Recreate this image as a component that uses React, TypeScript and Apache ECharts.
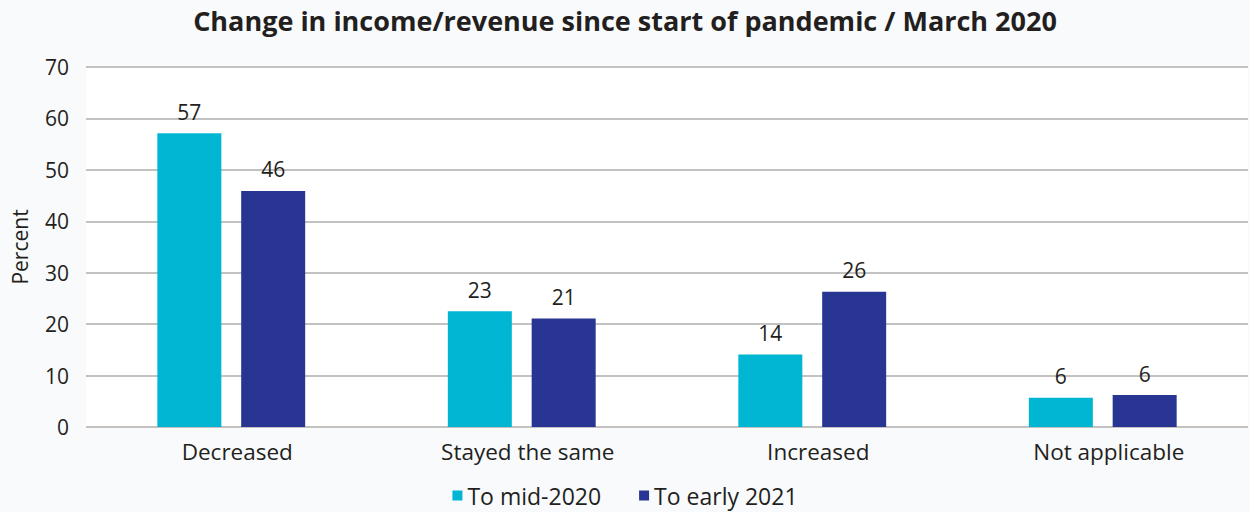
import React, { useEffect, useRef } from "react";
import * as echarts from "echarts";

const categories = ["Decreased", "Stayed the same", "Increased", "Not applicable"];
const seriesNames = ["To mid-2020", "To early 2021"];
const midValues = [57.1, 22.5, 14.1, 5.7];
const earlyValues = [45.9, 21.1, 26.3, 6.2];
const yTicks = { min: 0, max: 70, interval: 10 };
const titleText = "Change in income/revenue since start of pandemic / March 2020";
const yName = "Percent";

const FONT = "'Open Sans', Lato, sans-serif";
const TEXT = "#231f20";
const CYAN = "#00b6d2";
const NAVY = "#283593";

export default function App() {
  const ref = useRef<HTMLDivElement>(null);
  useEffect(() => {
    document.body.style.margin = "0";
    const chart = echarts.init(ref.current!, null, { renderer: "svg" });
    const label = {
      show: true,
      position: "top" as const,
      distance: 11,
      color: TEXT,
      fontFamily: FONT,
      fontSize: 21,
      formatter: (p: any) => String(Math.round(p.value)),
    };
    chart.setOption({
      animation: false,
      backgroundColor: "#f9fafc",
      textStyle: { fontFamily: FONT, color: TEXT },
      title: {
        text: titleText,
        left: "center",
        top: 2,
        textStyle: { fontFamily: FONT, fontWeight: "bold", fontSize: 27, color: TEXT },
      },
      legend: {
        bottom: 0,
        left: "center",
        itemWidth: 10,
        itemHeight: 10,
        itemGap: 38,
        icon: "rect",
        textStyle: { fontFamily: FONT, fontSize: 23, color: TEXT },
        data: seriesNames,
      },
      grid: {
        left: 86,
        right: 2,
        top: 67,
        bottom: 85,
        show: true,
        backgroundColor: "#ffffff",
        borderWidth: 0,
      },
      xAxis: {
        type: "category",
        data: categories,
        axisLine: { show: false },
        axisTick: { show: false },
        axisLabel: {
          color: TEXT,
          fontFamily: FONT,
          fontSize: 22.5,
          margin: 13,
          padding: [0, 0, 0, 12],
        },
      },
      yAxis: {
        type: "value",
        min: yTicks.min,
        max: yTicks.max,
        interval: yTicks.interval,
        name: yName,
        nameLocation: "middle",
        nameGap: 56,
        nameRotate: 90,
        nameTextStyle: { color: TEXT, fontFamily: FONT, fontSize: 21 },
        axisLine: { show: false },
        axisTick: { show: false },
        axisLabel: { color: TEXT, fontFamily: FONT, fontSize: 21, margin: 17 },
        splitLine: { lineStyle: { color: "#c4c2c0", width: 2 } },
      },
      series: [
        {
          name: seriesNames[0],
          type: "bar",
          data: midValues,
          barWidth: 64,
          barGap: "31%",
          itemStyle: { color: CYAN },
          label,
        },
        {
          name: seriesNames[1],
          type: "bar",
          data: earlyValues,
          barWidth: 64,
          barGap: "31%",
          itemStyle: { color: NAVY },
          label,
        },
      ],
    });
    return () => chart.dispose();
  }, []);
  return <div ref={ref} style={{ width: 1250, height: 512 }} />;
}
